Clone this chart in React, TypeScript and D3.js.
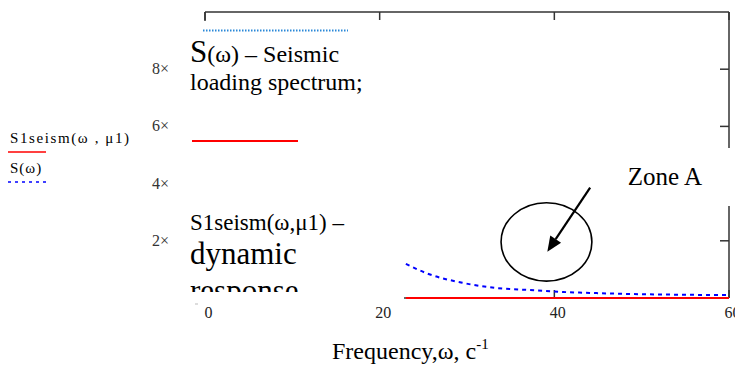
import React from 'react';
import * as d3 from 'd3';

// frequency, c^-1 (only the part not hidden by the text box is visible)
const omega = [23, 25.6, 29.5, 33.3, 37.1, 41, 45, 48.6, 53, 60];
const sSpectrum = [1.19, 0.84, 0.53, 0.35, 0.28, 0.21, 0.17, 0.14, 0.12, 0.1];
const s1Seism = [0, 0, 0, 0, 0, 0, 0, 0, 0, 0];
const xTicks = [0, 20, 40, 60];
const yTicks = [2, 4, 6, 8];
const yTickLabels = ['2×', '4×', '6×', '8×'];

// "Zone A" annotation, in data units
const zone = { cx: 39.1, cy: 1.96, rx: 5.2, ry: 1.37 };
const arrowFrom = [44.1, 3.86];
const arrowTo = [39.2, 1.62];
const zoneLabel = [48.4, 3.96];

const W = 735;
const H = 367;
const margin = { top: 12, right: 6, bottom: 69, left: 205 };
const serif = "'Liberation Serif', 'Times New Roman', serif";

const App = () => {
  const x = d3.scaleLinear().domain([0, 60]).range([margin.left, W - margin.right]);
  const y = d3.scaleLinear().domain([0, 10]).range([H - margin.bottom, margin.top]);
  const x0 = x(0), x1 = x(60), y0 = y(0), y1 = y(10);

  const pts = (vals: number[]) => omega.map((w, i) => [w, vals[i]] as [number, number]);
  const line = d3.line<[number, number]>()
    .x(d => x(d[0]))
    .y(d => y(d[1]))
    .curve(d3.curveMonotoneX);

  // arrow head
  const ax0 = x(arrowFrom[0]), ay0 = y(arrowFrom[1]);
  const ax1 = x(arrowTo[0]), ay1 = y(arrowTo[1]);
  const ang = Math.atan2(ay1 - ay0, ax1 - ax0);
  const hl = 15, hw = 6.5;
  const bx = ax1 - hl * Math.cos(ang), by = ay1 - hl * Math.sin(ang);
  const head = [
    [ax1, ay1],
    [bx + hw * Math.sin(ang), by - hw * Math.cos(ang)],
    [bx - hw * Math.sin(ang), by + hw * Math.cos(ang)],
  ].map(p => p.join(',')).join(' ');

  return (
    <svg width={W} height={H} style={{ position: 'absolute', left: 0, top: 0, background: '#fff', fontFamily: serif }}>
      {/* frame */}
      <g stroke="#333" strokeWidth={1.5} fill="none">
        <line x1={x0} x2={x1} y1={y1} y2={y1} />
        <line x1={x1} x2={x1} y1={y1} y2={y0} />
        <line x1={x0} x2={x0} y1={y1} y2={y0} />
        <line x1={x0} x2={x1} y1={y0} y2={y0} />
        {xTicks.map(t => <line key={'tt' + t} x1={x(t)} x2={x(t)} y1={y1} y2={y1 + 8} />)}
        {xTicks.map(t => <line key={'tb' + t} x1={x(t)} x2={x(t)} y1={y0} y2={y0 - 8} />)}
        {yTicks.map(t => <line key={'tr' + t} x1={x1} x2={x1 - 9} y1={y(t)} y2={y(t)} />)}
      </g>

      {/* series */}
      <path d={line(pts(s1Seism)) || ''} fill="none" stroke="#ff0000" strokeWidth={2} />
      <path d={line(pts(sSpectrum)) || ''} fill="none" stroke="#0000ff" strokeWidth={2}
        strokeDasharray="4 4" />

      {/* zone A annotation */}
      <ellipse cx={x(zone.cx)} cy={y(zone.cy)} rx={x(zone.cx + zone.rx) - x(zone.cx)}
        ry={y(zone.cy) - y(zone.cy + zone.ry)} fill="none" stroke="#000" strokeWidth={1.6} />
      <line x1={ax0} y1={ay0} x2={bx} y2={by} stroke="#000" strokeWidth={2.2} />
      <polygon points={head} fill="#000" />

      {/* white box of the "Zone A" label covering the right border */}
      <rect x={612} y={148} width={W - 612} height={58} fill="#fff" />
      <text x={x(zoneLabel[0])} y={y(zoneLabel[1])} fontSize={25} fill="#000">Zone A</text>

      {/* y tick labels (truncated) */}
      {yTicks.map((t, i) => (
        <text key={'yl' + t} x={169} y={y(t) + 5} fontSize={16} fill="#333" textAnchor="end">
          {yTickLabels[i]}
        </text>
      ))}

      {/* text box in the plot, hiding the left part */}
      <rect x={185} y={21} width={219} height={282} fill="#fff" />
      <line x1={203} x2={348} y1={30.5} y2={30.5} stroke="#2a88d8" strokeWidth={2}
        strokeDasharray="1.5 1.5" />
      <text x={190} y={62} fill="#000">
        <tspan fontSize={31}>S</tspan>
        <tspan fontSize={24}>(ω) – Seismic</tspan>
      </text>
      <text x={190} y={90} fontSize={24} fill="#000">loading spectrum;</text>
      <line x1={192} x2={298} y1={141} y2={141} stroke="#ff0000" strokeWidth={2} />
      <clipPath id="tbclip"><rect x={185} y={200} width={219} height={92} /></clipPath>
      <g clipPath="url(#tbclip)" fill="#000">
        <text x={190} y={230} fontSize={23}>S1seism(ω,μ1) –</text>
        <text x={190} y={264} fontSize={31}>dynamic</text>
        <text x={190} y={301} fontSize={31}>response</text>
      </g>

      {/* x tick labels */}
      <line x1={195} x2={198} y1={304} y2={304} stroke="#bbb" strokeWidth={1} />
      {xTicks.map(t => (
        <text key={'xl' + t} x={x(t) + 3.5} y={318} fontSize={16} fill="#222" textAnchor="middle">
          {t}
        </text>
      ))}

      {/* axis title */}
      <text x={332} y={359} fontSize={24} fill="#000">
        Frequency,ω, c<tspan fontSize={15} dy={-10}>-1</tspan>
      </text>

      {/* left legend */}
      <text x={10} y={143} fontSize={15} letterSpacing={1.6} fill="#000">S1seism(ω , μ1)</text>
      <line x1={8} x2={46} y1={152} y2={152} stroke="#ff0000" strokeWidth={1.5} />
      <text x={10} y={173} fontSize={15} letterSpacing={1} fill="#000">S(ω)</text>
      <line x1={8} x2={47} y1={182} y2={182} stroke="#0000ff" strokeWidth={1.5}
        strokeDasharray="3 4" />
    </svg>
  );
};

export default App;
